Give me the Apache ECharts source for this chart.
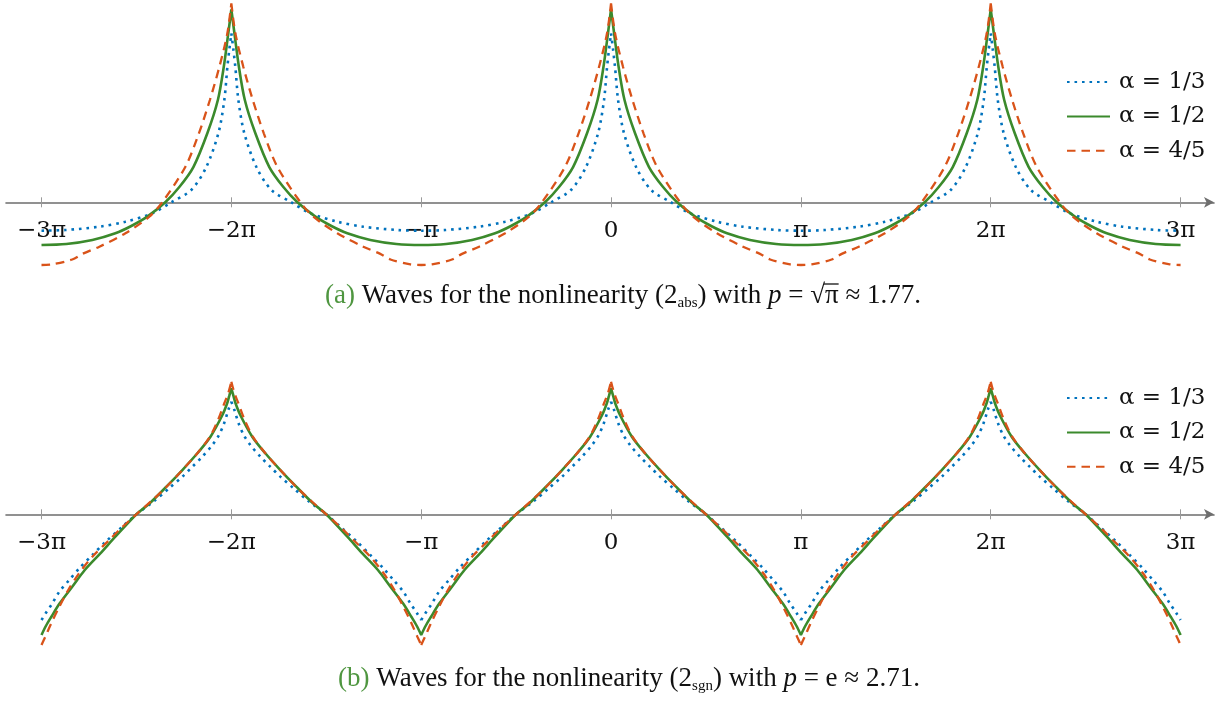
<!DOCTYPE html>
<html>
<head>
<meta charset="utf-8">
<script src="https://cdn.jsdelivr.net/npm/echarts@6/dist/echarts.min.js"></script>
<style>
  html, body { margin: 0; padding: 0; background: #fff; }
  #main { width: 1227px; height: 702px; }
</style>
</head>
<body>
<div id="main"></div>
<script>
// x is measured in multiples of pi
var tickValues = [-3, -2, -1, 0, 1, 2, 3];
var tickLabels = ['−3π', '−2π', '−π', '0', 'π', '2π', '3π'];
var peaks = [-2, 0, 2];
var names = ['α = 1/3', 'α = 1/2', 'α = 4/5'];

// (a) half wave, from the peak (x = 0) to the trough (x = 1)
var absX13 = [0, 0.011, 0.021, 0.037, 0.068, 0.132, 0.211, 0.316, 0.416, 0.558, 0.695, 0.875, 1];
var absY13 = [2.798, 2.522, 2.240, 1.694, 1.147, 0.584, 0.204, 0, -0.182, -0.321, -0.404, -0.459, -0.470];
var absX12 = [0, 0.016, 0.040, 0.071, 0.126, 0.200, 0.274, 0.348, 0.443, 0.527, 0.611, 0.732, 0.869, 1];
var absY12 = [3.195, 2.803, 2.240, 1.694, 1.147, 0.584, 0.253, 0, -0.238, -0.392, -0.513, -0.624, -0.690, -0.707];
var absX45 = [0, 0.021, 0.063, 0.113, 0.171, 0.242, 0.364, 0.432, 0.558, 0.695, 0.782, 0.838, 0.943, 1];
var absY45 = [3.295, 2.798, 2.245, 1.694, 1.142, 0.589, 0, -0.238, -0.513, -0.735, -0.850, -0.947, -1.028, -1.038];

// (b) half wave, from the peak (x = 0) to the trough (x = 1)
var sgnX13 = [0, 0.016, 0.038, 0.065, 0.100, 0.153, 0.205, 0.258, 0.328, 0.406, 0.5, 0.574, 0.662, 0.732, 0.801, 0.854, 0.906, 0.943, 0.978, 1];
var sgnY13 = [1.864, 1.727, 1.507, 1.313, 1.147, 0.954, 0.788, 0.623, 0.430, 0.220, 0, -0.205, -0.454, -0.674, -0.894, -1.088, -1.281, -1.474, -1.639, -1.750];
var sgnX12 = [0, 0.011, 0.022, 0.047, 0.110, 0.179, 0.258, 0.342, 0.430, 0.5, 0.611, 0.690, 0.772, 0.838, 0.904, 0.948, 0.977, 1];
var sgnY12 = [2.086, 1.959, 1.838, 1.644, 1.285, 1.010, 0.733, 0.457, 0.182, 0, -0.371, -0.646, -0.922, -1.199, -1.474, -1.695, -1.849, -1.998];
var sgnX45 = [0, 0.016, 0.037, 0.068, 0.113, 0.179, 0.258, 0.348, 0.421, 0.5, 0.580, 0.643, 0.732, 0.801, 0.859, 0.906, 0.948, 0.980, 1];
var sgnY45 = [2.195, 2.008, 1.838, 1.578, 1.285, 1.010, 0.733, 0.435, 0.220, 0, -0.227, -0.425, -0.702, -0.972, -1.253, -1.530, -1.800, -2.026, -2.164];

var colors = ['#0072bd', '#3b8a2c', '#d95319'];
var lineStyles = [
  { width: 2.6, type: [2.6, 4.9], cap: 'butt' },
  { width: 2.6, type: 'solid' },
  { width: 2.3, type: [8.5, 6] }
];

// mirror the half wave round every peak; the line is broken at each
// peak (a cusp) and, if troughCusp is set, at each trough too
function wave(hx, hy, troughCusp) {
  var data = [];
  var n = hx.length;
  peaks.forEach(function (p, k) {
    var from = (k === 0 || troughCusp) ? n - 1 : n - 2;
    for (var i = from; i >= 0; i--) data.push([p - hx[i], hy[i]]);
    data.push([p, '-']);
    for (var j = 0; j < n; j++) data.push([p + hx[j], hy[j]]);
    if (troughCusp) data.push([p + 1, '-']);
  });
  return data;
}

var panels = [
  [wave(absX13, absY13, false), wave(absX12, absY12, false), wave(absX45, absY45, false)],
  [wave(sgnX13, sgnY13, true), wave(sgnX12, sgnY12, true), wave(sgnX45, sgnY45, true)]
];

var tickFont = 'DejaVu Serif';
var textFont = 'Liberation Serif';
var capSize = 27;

// the grid's bottom edge is y = 0, curves are drawn past it (clip off)
function xAxes(gridIndex) {
  var base = {
    type: 'value', gridIndex: gridIndex, min: -3.187, max: 3.176,
    position: 'bottom', splitLine: { show: false }
  };
  return [
    Object.assign({}, base, {
      axisLine: { onZero: false, symbol: ['none', 'arrow'], symbolSize: [8, 10],
        lineStyle: { color: '#6e6e6e', width: 1.6 } },
      axisTick: { customValues: tickValues, length: 5, lineStyle: { color: '#9a9a9a', width: 1 } },
      axisLabel: {
        customValues: tickValues, margin: 17, color: '#111',
        fontFamily: tickFont, fontSize: 23,
        formatter: function (v) { return tickLabels[tickValues.indexOf(Math.round(v))]; }
      }
    }),
    Object.assign({}, base, {
      axisLine: { show: false, onZero: false },
      axisTick: { customValues: tickValues, inside: true, length: 5, lineStyle: { color: '#9a9a9a', width: 1 } },
      axisLabel: { show: false }
    })
  ];
}

var series = [];
panels.forEach(function (curves, g) {
  curves.forEach(function (data, k) {
    series.push({
      name: names[k], type: 'line', xAxisIndex: g * 2, yAxisIndex: g,
      data: data, showSymbol: false, symbol: 'none', clip: false,
      smooth: 0.3, connectNulls: false,
      color: colors[k], lineStyle: lineStyles[k], z: 3 + k
    });
  });
});

function legend(top) {
  return {
    orient: 'vertical', left: 1066, top: top, padding: 0,
    itemWidth: 43, itemHeight: 14, itemGap: 10.4,
    data: names,
    itemStyle: { color: 'rgba(0,0,0,0)', borderWidth: 0 },
    textStyle: { fontFamily: tickFont, fontSize: 23, lineHeight: 24, color: '#111', padding: [0, 0, 0, 4] }
  };
}

var capRich = {
  g: { fill: '#4f9640', fontFamily: textFont, fontSize: capSize, lineHeight: 30 },
  t: { fill: '#111', fontFamily: textFont, fontSize: capSize, lineHeight: 30 },
  i: { fill: '#111', fontFamily: textFont, fontSize: capSize, lineHeight: 30, fontStyle: 'italic' },
  s: { fill: '#111', fontFamily: textFont, fontSize: 15, lineHeight: 15, verticalAlign: 'bottom' }
};

// where the bar over the pi in caption (a) goes
var capA = { x: 623, y: 296 };
var ctx = document.createElement('canvas').getContext('2d');
function w(txt, size, style) {
  ctx.font = (style || '') + ' ' + size + 'px "' + textFont + '"';
  return ctx.measureText(txt).width;
}
var capW = w('(a)', capSize) + w(' Waves for the nonlinearity (2', capSize) + w('abs', 15) +
  w(') with ', capSize) + w('p', capSize, 'italic') + w(' = √π ≈ 1.77.', capSize);
var barX0 = capA.x - capW / 2 + w('(a)', capSize) + w(' Waves for the nonlinearity (2', capSize) +
  w('abs', 15) + w(') with ', capSize) + w('p', capSize, 'italic') + w(' = √', capSize) - 1;
var barX1 = barX0 + w('π', capSize) + 1;

var chart = echarts.init(document.getElementById('main'));
chart.setOption({
  animation: false,
  grid: [
    { left: 6, right: 13, top: 0, height: 202.3, outerBoundsMode: 'none' },
    { left: 6, right: 13, top: 360, height: 154.3, outerBoundsMode: 'none' }
  ],
  xAxis: xAxes(0).concat(xAxes(1)),
  yAxis: [
    { type: 'value', gridIndex: 0, min: 0, max: 3.35, show: false },
    { type: 'value', gridIndex: 1, min: 0, max: 2.554, show: false }
  ],
  legend: [legend(70), legend(386)],
  series: series,
  graphic: [
    {
      type: 'text', x: capA.x, y: capA.y,
      style: {
        text: '{g|(a)}{t| Waves for the nonlinearity (2}{s|abs}{t|) with }{i|p}{t| = √π ≈ 1.77.}',
        rich: capRich, align: 'center', verticalAlign: 'middle'
      }
    },
    {
      type: 'line', shape: { x1: barX0, y1: capA.y - 12, x2: barX1, y2: capA.y - 12 },
      style: { stroke: '#111', lineWidth: 1.3 }
    },
    {
      type: 'text', x: 629, y: 679,
      style: {
        text: '{g|(b)}{t| Waves for the nonlinearity (2}{s|sgn}{t|) with }{i|p}{t| = e ≈ 2.71.}',
        rich: capRich, align: 'center', verticalAlign: 'middle'
      }
    }
  ]
});
</script>
</body>
</html>
